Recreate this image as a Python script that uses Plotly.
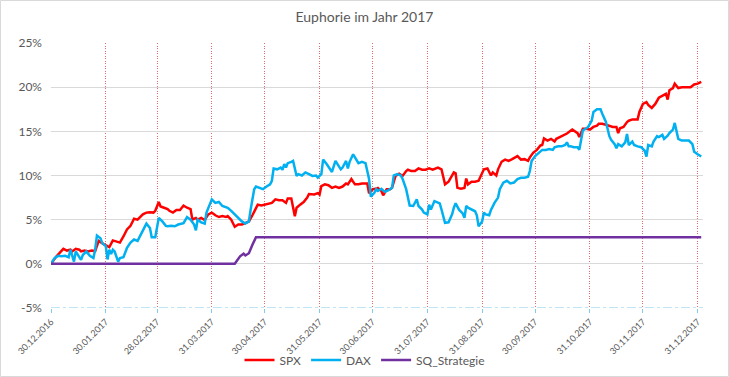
import pandas as pd
import plotly.graph_objects as go

START = pd.Timestamp("2016-12-30")

# day offsets from 30.12.2016 and cumulative performance in %
spx_days = [0, 3, 7, 9, 11, 12, 14, 16, 17, 19, 21, 23, 25, 27, 30, 32, 33, 35, 37, 39,
            41, 43, 45, 47, 49, 50, 52, 54, 56, 58, 59, 61, 62, 64, 66, 67, 69, 71, 73, 75,
            77, 79, 80, 82, 83, 85, 87, 89, 91, 93, 95, 97, 99, 100, 102, 104, 106, 108, 110, 112,
            114, 116, 117, 119, 121, 123, 125, 127, 129, 131, 133, 134, 136, 138, 139, 141, 143, 145, 146, 149,
            151, 152, 153, 155, 157, 159, 161, 163, 165, 167, 168, 170, 172, 174, 176, 178, 179, 180, 182, 184,
            185, 187, 188, 190, 192, 193, 195, 197, 199, 201, 202, 204, 206, 208, 210, 212, 214, 216, 218, 219,
            221, 222, 223, 225, 227, 228, 229, 230, 232, 234, 235, 236, 238, 240, 242, 244, 245, 247, 249, 250,
            252, 253, 255, 257, 259, 261, 263, 264, 266, 268, 270, 271, 273, 275, 277, 278, 279, 281, 283, 285,
            286, 288, 290, 292, 295, 297, 298, 299, 301, 303, 305, 307, 309, 310, 312, 314, 316, 318, 320, 321,
            322, 324, 326, 327, 329, 331, 332, 333, 335, 337, 338, 340, 342, 344, 346, 348, 349, 350, 352, 353,
            355, 357, 360, 362, 364, 366, 368]
spx_values = [0, 0.83, 1.7, 1.5, 1.6, 1.4, 1.7, 1.6, 1.4, 1.5, 1.4, 1.5, 1.45, 2.6, 2.2, 2.0, 1.9, 2.65, 2.5, 2.4,
              3.1, 3.9, 4.3, 5.1, 5.0, 5.2, 5.6, 5.8, 5.85, 5.8, 6.0, 7.0, 6.5, 6.35, 6.2, 6.0, 5.8, 6.1, 6.1, 6.6,
              6.35, 6.2, 5.0, 5.2, 5.0, 5.2, 4.95, 5.6, 5.8, 5.5, 5.3, 5.4, 5.3, 5.4, 5.0, 4.2, 4.45, 4.45, 4.6, 4.8,
              5.5, 6.35, 6.7, 6.6, 6.7, 6.8, 6.9, 7.3, 7.2, 7.2, 6.9, 7.4, 7.4, 5.4, 6.35, 6.7, 7.0, 7.5, 7.9, 7.85,
              8.0, 7.85, 8.8, 9.0, 8.9, 8.6, 8.75, 8.6, 8.75, 9.1, 9.0, 9.6, 9.0, 9.0, 9.1, 9.1, 9.1, 8.0, 8.45, 8.5,
              8.6, 8.25, 7.75, 8.45, 8.45, 8.6, 9.95, 10.2, 9.95, 10.5, 10.65, 10.5, 10.5, 10.8, 10.65, 10.65, 10.8, 10.65, 10.8, 10.9,
              10.7, 9.95, 9.0, 9.3, 9.9, 10.35, 10.25, 8.6, 8.5, 8.6, 9.65, 9.0, 9.3, 9.3, 9.4, 10.15, 10.7, 10.8, 10.0, 10.35,
              10.0, 10.7, 11.55, 11.8, 11.65, 11.85, 12.05, 12.2, 11.8, 11.85, 11.65, 12.05, 12.6, 12.9, 13.4, 13.45, 14.2, 13.95, 14.15, 13.85,
              14.15, 14.35, 14.55, 14.75, 15.2, 14.95, 14.8, 14.35, 15.3, 15.3, 15.2, 15.5, 15.65, 15.85, 15.85, 15.75, 15.65, 15.5, 15.5, 14.8,
              15.35, 15.5, 16.05, 16.2, 16.35, 16.4, 16.35, 17.2, 18.1, 18.3, 18.0, 17.65, 18.1, 18.8, 19.0, 19.25, 18.6, 19.65, 19.9, 20.4,
              19.9, 20.0, 20.0, 20.0, 20.3, 20.4, 20.6]

dax_days = [0, 2, 4, 6, 8, 10, 11, 13, 14, 16, 17, 18, 20, 22, 24, 25, 26, 28, 29, 31,
            32, 33, 34, 35, 36, 38, 39, 41, 43, 45, 47, 49, 50, 52, 54, 56, 57, 59, 61, 63,
            65, 66, 68, 70, 72, 75, 77, 79, 81, 82, 83, 85, 87, 88, 90, 91, 93, 95, 97, 99,
            100, 102, 104, 106, 108, 110, 112, 113, 115, 116, 118, 120, 122, 124, 125, 126, 128, 130, 131, 132,
            133, 134, 136, 137, 139, 140, 142, 144, 146, 148, 150, 151, 153, 154, 156, 158, 159, 161, 162, 164,
            165, 167, 168, 169, 171, 173, 174, 176, 178, 179, 180, 181, 183, 184, 185, 187, 189, 191, 193, 194,
            196, 198, 199, 201, 202, 203, 205, 207, 208, 210, 211, 213, 214, 215, 217, 219, 220, 221, 223, 225,
            227, 228, 229, 231, 233, 234, 235, 236, 238, 240, 241, 242, 244, 245, 246, 248, 249, 251, 253, 254,
            256, 258, 260, 262, 264, 266, 268, 270, 271, 272, 274, 276, 278, 280, 282, 284, 285, 287, 289, 291,
            292, 293, 294, 296, 298, 299, 301, 303, 304, 306, 307, 309, 311, 312, 314, 315, 316, 317, 319, 320,
            321, 323, 325, 326, 327, 329, 330, 332, 334, 336, 337, 338, 340, 341, 343, 344, 346, 347, 349, 350,
            352, 353, 354, 355, 357, 359, 361, 363, 364, 366, 368]
dax_values = [0, 0.65, 0.9, 0.85, 0.9, 0.75, 1.6, 0.25, 1.4, 0.85, 0.45, 1.0, 1.4, 0.9, 0.65, 1.6, 3.2, 2.9, 2.35, 2.0,
              0.5, 1.6, 1.1, 1.6, 1.4, 0.25, 0.65, 0.75, 1.8, 2.4, 2.75, 2.6, 3.0, 3.7, 4.55, 4.05, 3.0, 3.0, 5.2, 4.8,
              4.3, 4.25, 4.3, 4.25, 4.45, 4.6, 5.3, 5.0, 4.45, 3.8, 5.0, 4.7, 4.55, 5.8, 6.9, 7.3, 6.9, 7.0, 6.55, 6.45,
              6.35, 6.0, 5.6, 5.2, 4.8, 4.55, 4.8, 6.15, 8.45, 8.75, 8.6, 8.45, 8.75, 9.0, 9.4, 10.8, 10.7, 10.9, 10.65, 11.3,
              10.9, 11.4, 11.55, 11.65, 9.95, 10.15, 10.0, 10.35, 10.15, 9.95, 10.0, 9.75, 10.15, 11.8, 11.3, 10.7, 10.4, 11.65, 11.3, 10.7,
              10.9, 11.65, 10.8, 11.55, 12.4, 11.8, 11.4, 11.55, 11.4, 10.5, 9.6, 7.6, 8.05, 8.45, 8.25, 8.5, 8.15, 8.35, 8.6, 10.0,
              10.15, 10.0, 9.6, 8.45, 7.6, 6.6, 6.55, 7.3, 6.55, 6.15, 5.8, 5.6, 6.7, 6.15, 7.1, 6.9, 6.85, 6.15, 4.65, 4.7,
              5.6, 6.35, 6.85, 6.1, 5.7, 5.2, 6.55, 6.35, 6.15, 5.95, 5.5, 4.25, 4.8, 5.8, 5.6, 5.5, 6.1, 6.9, 7.5, 8.45,
              9.2, 9.4, 9.1, 9.2, 9.6, 9.75, 9.75, 9.85, 10.5, 11.65, 12.2, 12.6, 12.9, 12.9, 13.0, 12.9, 13.2, 13.3, 13.3, 13.45,
              13.75, 13.3, 13.3, 13.2, 13.2, 12.9, 15.1, 15.35, 15.5, 16.2, 17.2, 17.5, 17.5, 17.0, 16.1, 15.3, 14.45, 14.05, 13.55, 13.1,
              13.55, 13.3, 13.75, 14.7, 13.45, 13.85, 13.45, 13.3, 13.2, 12.8, 12.15, 13.45, 13.3, 13.85, 14.45, 14.35, 14.6, 14.15, 14.5, 14.8,
              15.2, 15.95, 15.1, 14.15, 13.95, 13.95, 13.95, 13.55, 12.7, 12.4, 12.15]

sq_days = [0, 104, 107, 109, 110, 112, 114, 116, 368]
sq_values = [0, 0, 0.85, 1.15, 0.95, 1.2, 2.15, 3.0, 3.0]

tick_dates = ["2016-12-30", "2017-01-30", "2017-02-28", "2017-03-31", "2017-04-30", "2017-05-31",
              "2017-06-30", "2017-07-31", "2017-08-31", "2017-09-30", "2017-10-31", "2017-11-30", "2017-12-31"]
tick_labels = ["30.12.2016", "30.01.2017", "28.02.2017", "31.03.2017", "30.04.2017", "31.05.2017",
               "30.06.2017", "31.07.2017", "31.08.2017", "30.09.2017", "31.10.2017", "30.11.2017", "31.12.2017"]
y_ticks = [-5, 0, 5, 10, 15, 20, 25]


def to_dates(days):
    return START + pd.to_timedelta(days, unit="D")


FONT = "Lato, 'Open Sans', sans-serif"
GREY = "#595959"

fig = go.Figure()
fig.add_trace(go.Scatter(x=to_dates(spx_days), y=spx_values, name="SPX", mode="lines",
                         line=dict(color="#FF0000", width=2.5)))
fig.add_trace(go.Scatter(x=to_dates(dax_days), y=dax_values, name="DAX", mode="lines",
                         line=dict(color="#00B0F0", width=2.5)))
fig.add_trace(go.Scatter(x=to_dates(sq_days), y=sq_values, name="SQ_Strategie", mode="lines",
                         line=dict(color="#7030A0", width=2.5)))

# axis line at the bottom (dash-dot, light blue)
fig.add_shape(type="line", xref="paper", x0=0, x1=1, yref="y", y0=y_ticks[0], y1=y_ticks[0],
              line=dict(color="white", width=2), layer="above")
fig.add_shape(type="line", xref="paper", x0=0, x1=1, yref="y", y0=y_ticks[0], y1=y_ticks[0],
              line=dict(color="#7FCDEB", width=1.25, dash="dashdot"), layer="above")
# chart border
fig.add_shape(type="rect", xref="paper", yref="paper",
              x0=(0.5 - 51) / 652, x1=(728.5 - 51) / 652,
              y0=-(376.5 - 308) / 265, y1=(308 - 0.5) / 265,
              line=dict(color="#D9D9D9", width=1), layer="below")

fig.update_layout(
    width=729, height=377,
    margin=dict(l=51, r=26, t=43, b=69, autoexpand=False),
    paper_bgcolor="white", plot_bgcolor="white",
    font=dict(family=FONT, color=GREY, size=12),
    title=dict(text="Euphorie im Jahr 2017", x=0.5, xref="container", xanchor="center",
               y=1 - 17 / 377, yref="container", yanchor="middle",
               font=dict(size=14, color=GREY, family=FONT)),
    showlegend=True,
    legend=dict(orientation="h", xref="container", x=0.5, xanchor="center",
                yref="container", y=1 - 360 / 377, yanchor="middle",
                font=dict(size=12, color=GREY), itemwidth=30, bgcolor="rgba(0,0,0,0)"),
    xaxis=dict(
        type="date", range=["2016-12-30", "2018-01-03"], automargin=False,
        tickmode="array", tickvals=tick_dates, ticktext=tick_labels,
        tickangle=-45, tickfont=dict(size=9, color=GREY),
        showgrid=True, gridcolor="rgba(220,70,70,0.8)", griddash="1px,1.5px", gridwidth=1,
        ticks="outside", ticklen=4, tickcolor="#7FCDEB",
        showline=False, zeroline=False,
    ),
    yaxis=dict(
        range=[y_ticks[0], y_ticks[-1]], tickmode="array", tickvals=y_ticks, automargin=False,
        ticktext=[f"{v}%" for v in y_ticks], tickfont=dict(size=12, color=GREY),
        showgrid=True, gridcolor="#D9D9D9", gridwidth=1, zeroline=False, showline=False,
        ticks="", ticklabelstandoff=8,
    ),
)

fig.write_html("out.html", config={"displayModeBar": False},
               post_script="document.body.style.margin='0px';")
